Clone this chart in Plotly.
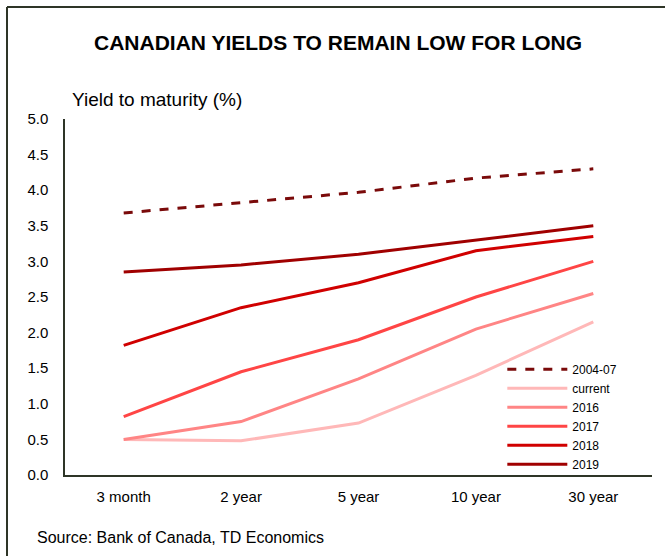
import plotly.graph_objects as go

categories = ["3 month", "2 year", "5 year", "10 year", "30 year"]
series_names = ["2004-07", "current", "2016", "2017", "2018", "2019"]
y_2004_07 = [3.68, 3.83, 3.97, 4.17, 4.30]
y_current = [0.50, 0.48, 0.73, 1.40, 2.15]
y_2016 = [0.50, 0.75, 1.35, 2.05, 2.55]
y_2017 = [0.82, 1.45, 1.90, 2.50, 3.00]
y_2018 = [1.82, 2.35, 2.70, 3.15, 3.35]
y_2019 = [2.85, 2.95, 3.10, 3.30, 3.50]
y_ticks = [0.0, 0.5, 1.0, 1.5, 2.0, 2.5, 3.0, 3.5, 4.0, 4.5, 5.0]

values = [y_2004_07, y_current, y_2016, y_2017, y_2018, y_2019]
colors = ["#7A0A0A", "#FFB8B8", "#FF8585", "#FF4545", "#D00000", "#A00000"]
dashes = ["dash", "solid", "solid", "solid", "solid", "solid"]

fig = go.Figure()
for name, vals, c, d in zip(series_names, values, colors, dashes):
    fig.add_trace(go.Scatter(x=categories, y=vals, name=name, mode="lines",
                             line=dict(color=c, width=3, dash=d)))

font = "Liberation Sans, Arial, sans-serif"
fig.update_layout(
    width=665, height=556,
    margin=dict(l=65, r=13, t=119, b=81),
    paper_bgcolor="white", plot_bgcolor="white",
    font=dict(family=font, size=13, color="black"),
    showlegend=True,
    legend=dict(x=0.745, y=0.338, xanchor="left", yanchor="top",
                bgcolor="rgba(0,0,0,0)", font=dict(size=12),
                tracegroupgap=0, itemwidth=60),
    xaxis=dict(type="category", range=[-0.5, 4.5], showgrid=False,
               showline=True, linecolor="#2E3527", linewidth=1.5,
               ticks="", tickfont=dict(size=15), ticklabelstandoff=7),
    yaxis=dict(range=[0, 5.0], tickvals=y_ticks,
               ticktext=[f"{v:.1f}" for v in y_ticks],
               showgrid=False, zeroline=False, showline=True,
               linecolor="#2E3527", linewidth=1.5, ticks="",
               tickfont=dict(size=15), ticklabelstandoff=12),
    annotations=[
        dict(text="<b>CANADIAN YIELDS TO REMAIN LOW FOR LONG</b>",
             xref="paper", yref="paper", x=(338 - 65) / 587, y=1 + (119 - 43) / 356,
             xanchor="center", yanchor="middle", showarrow=False,
             font=dict(size=21, family=font)),
        dict(text="Yield to maturity (%)", xref="paper", yref="paper",
             x=(70 - 65) / 587, y=1 + (119 - 99) / 356,
             xanchor="left", yanchor="middle", showarrow=False,
             font=dict(size=19, family=font)),
        dict(text="Source: Bank of Canada, TD Economics", xref="paper", yref="paper",
             x=(35 - 65) / 587, y=-(537 - 475) / 356,
             xanchor="left", yanchor="middle", showarrow=False,
             font=dict(size=16, family=font)),
    ],
    shapes=[
        dict(type="line", xref="paper", yref="paper",
             x0=(7 - 65) / 587, x1=(7 - 65) / 587,
             y0=1 + (119 - 7) / 356, y1=-(570 - 475) / 356,
             line=dict(color="#2E3527", width=2)),
        dict(type="line", xref="paper", yref="paper",
             x0=(7 - 65) / 587, x1=(680 - 65) / 587,
             y0=1 + (119 - 7) / 356, y1=1 + (119 - 7) / 356,
             line=dict(color="#2E3527", width=2)),
    ],
)

fig.write_html("out.html")
